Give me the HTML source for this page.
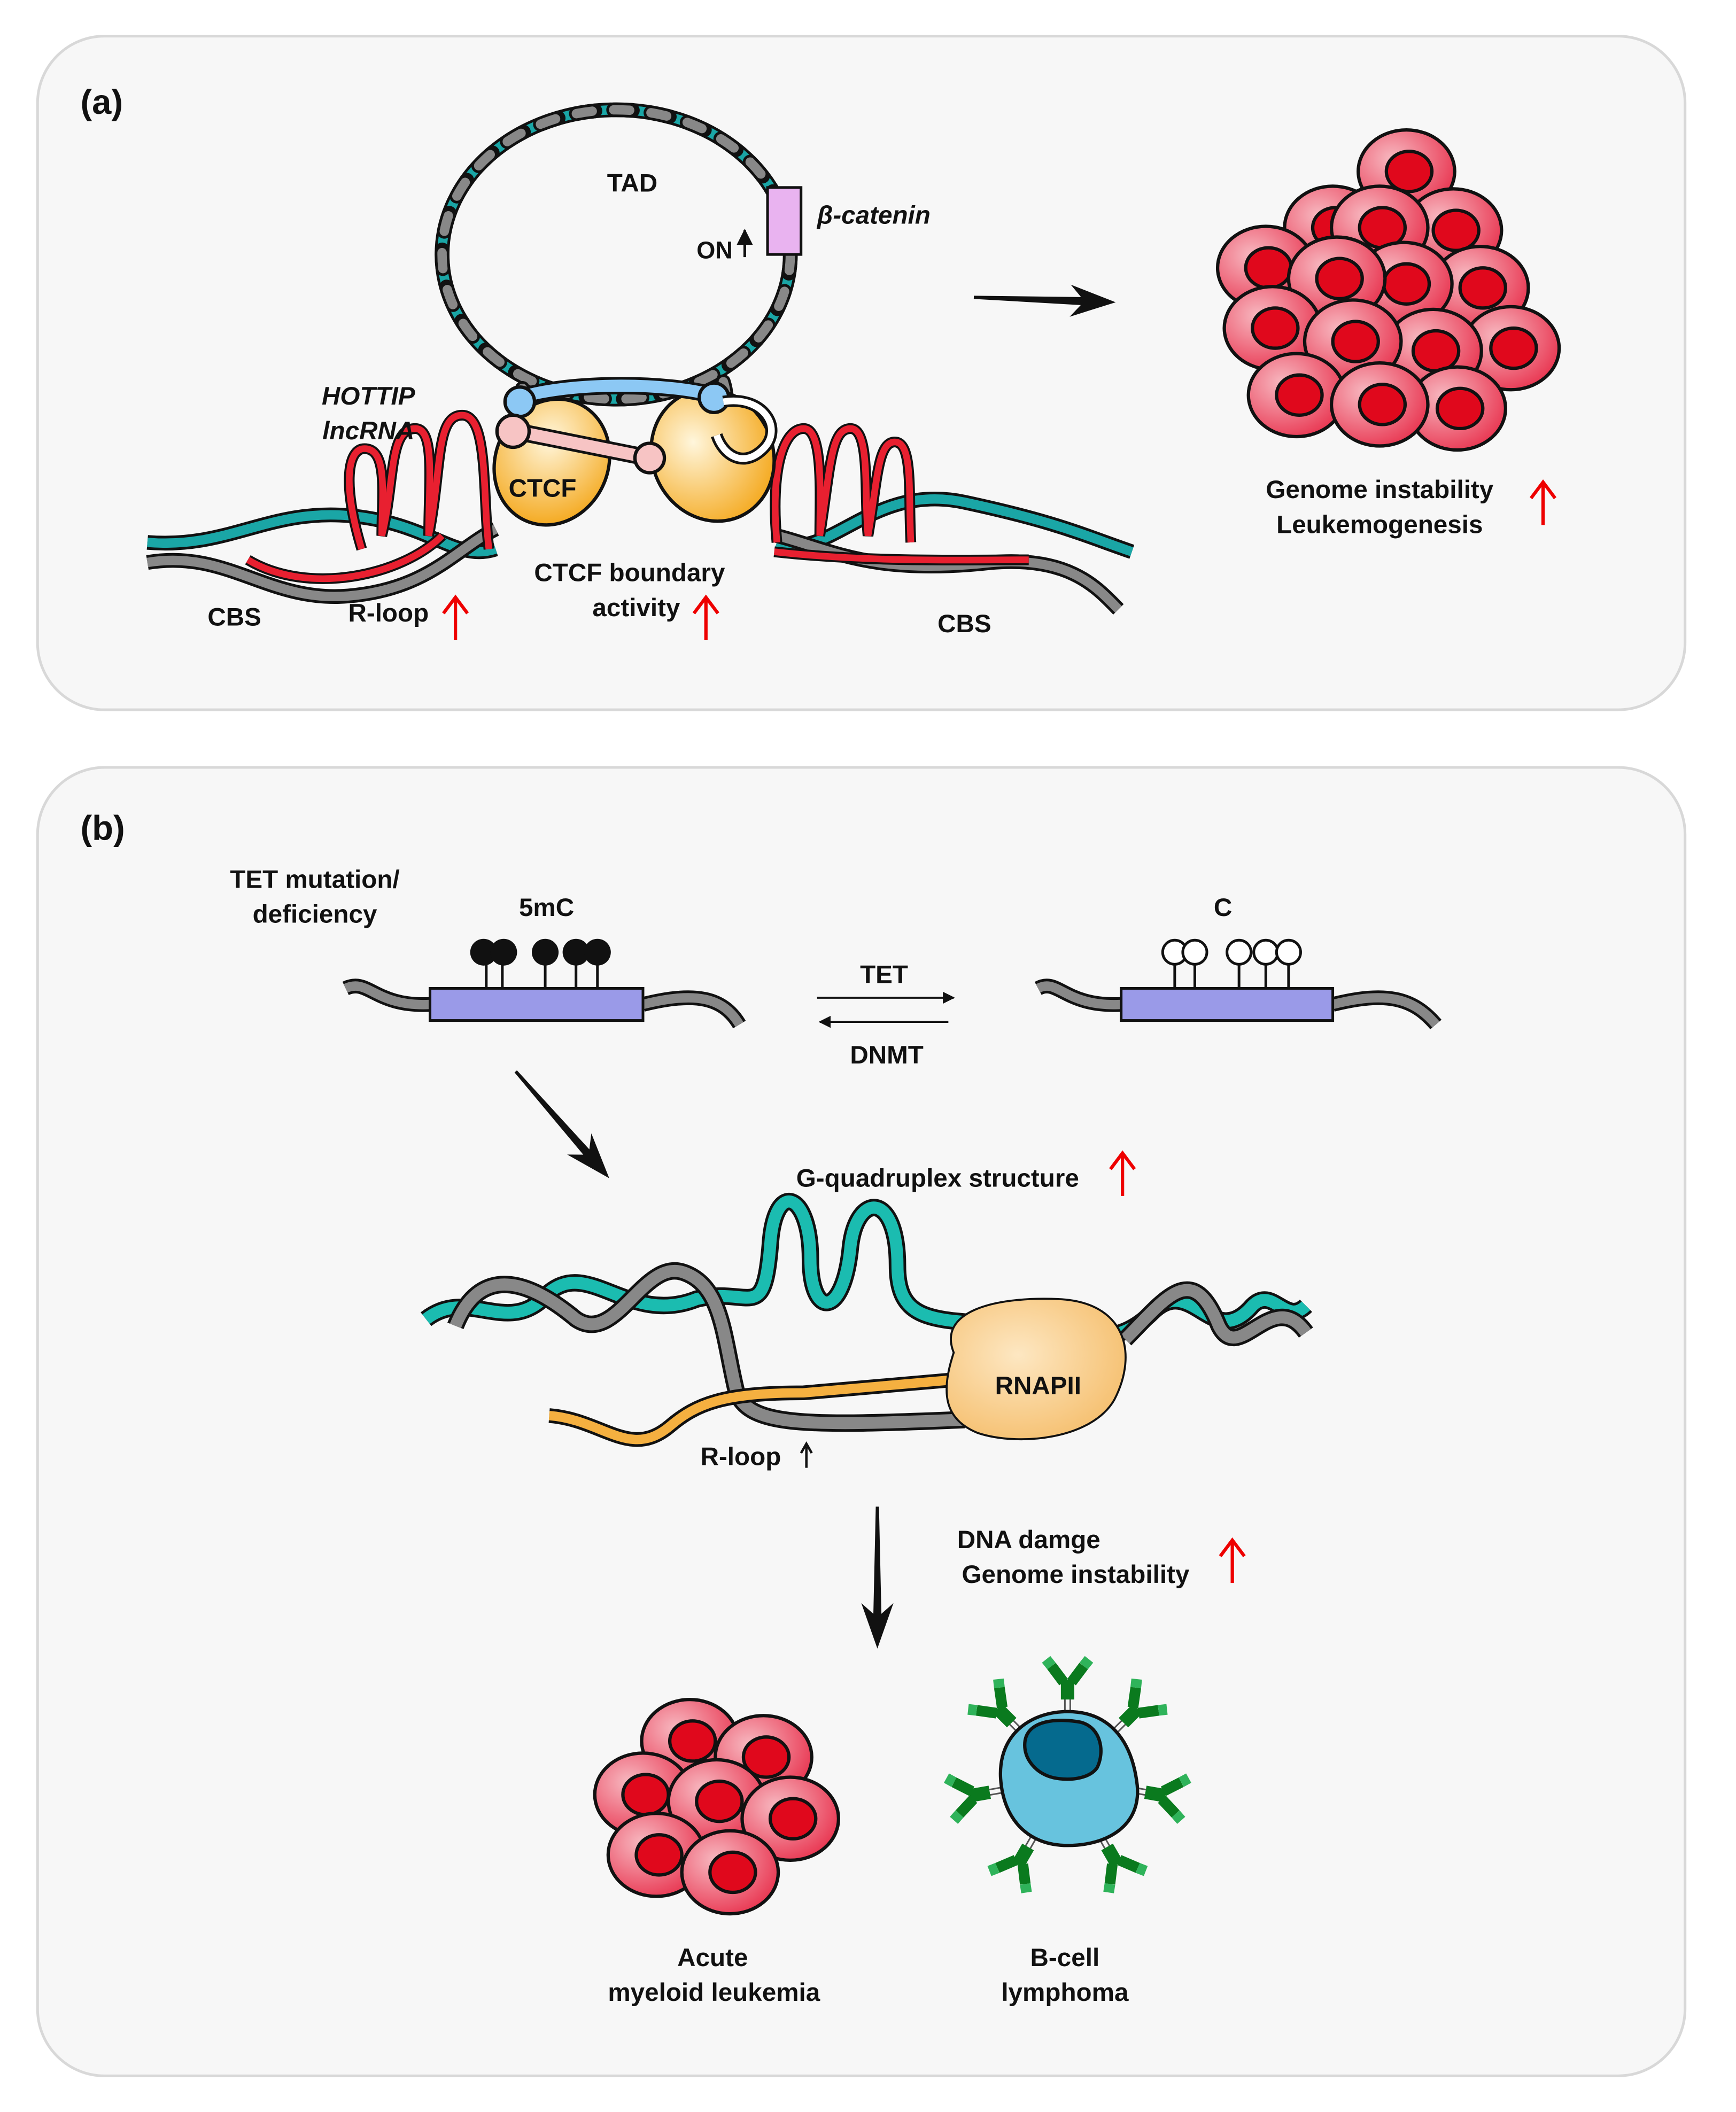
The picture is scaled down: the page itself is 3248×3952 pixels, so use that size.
<!DOCTYPE html>
<html><head><meta charset="utf-8"><style>html,body{margin:0;padding:0;background:#fff}svg{display:block}text{font-family:"Liberation Sans",Arial,sans-serif;font-weight:bold;fill:#111}</style></head>
<body>
<svg width="3248" height="3952" viewBox="0 0 1296 1577" xmlns="http://www.w3.org/2000/svg">
<defs>
<radialGradient id="cellg" cx="0.35" cy="0.35" r="0.75"><stop offset="0" stop-color="#f7b8c0"/><stop offset="1" stop-color="#e8304c"/></radialGradient>
<radialGradient id="ctg" cx="0.4" cy="0.35" r="0.7"><stop offset="0" stop-color="#fff6dc"/><stop offset="1" stop-color="#f4a81c"/></radialGradient>
<radialGradient id="rng" cx="0.4" cy="0.4" r="0.7"><stop offset="0" stop-color="#fde7c2"/><stop offset="1" stop-color="#f5bd6a"/></radialGradient>
<g id="cell"><ellipse rx="36" ry="31" fill="url(#cellg)" stroke="#111" stroke-width="2.5"/><ellipse cx="2" cy="0" rx="17" ry="15" fill="#e0081c" stroke="#111" stroke-width="2.5"/></g>
<g id="ab"><line x1="-2" y1="-49" x2="-2" y2="-60" stroke="#555" stroke-width="1.2"/><line x1="2" y1="-49" x2="2" y2="-60" stroke="#555" stroke-width="1.2"/><rect x="-5" y="-74" width="10" height="15" fill="#0a7a1e"/><path d="M-3,-72 L-12,-84 M3,-72 L12,-84" stroke="#0a7a1e" stroke-width="8"/><path d="M-12,-84 L-16,-89 M12,-84 L16,-89" stroke="#2fb35a" stroke-width="8"/></g>
<g id="arr"><path d="M0,-1.2 L80,-3 L72,-12 L106,0 L72,12 L80,3 L0,1.2z" fill="#111"/></g>
<marker id="ah" viewBox="0 0 10 10" refX="9" refY="5" markerWidth="6" markerHeight="6" orient="auto"><path d="M0,0 L10,5 L0,10z" fill="#111"/></marker>
</defs>
<rect width="1296" height="1577" fill="#fff"/>
<rect x="28" y="27" width="1230" height="503" rx="50" fill="#f7f7f7" stroke="#d8d8d8" stroke-width="2"/>
<rect x="28" y="573" width="1230" height="977" rx="50" fill="#f7f7f7" stroke="#d8d8d8" stroke-width="2"/>
<text x="60" y="85" font-size="26">(a)</text>
<text x="60" y="627" font-size="26">(b)</text>

<!-- TAD loop -->
<g fill="none" stroke-linecap="round">
<ellipse cx="460" cy="190" rx="130" ry="108" stroke="#111" stroke-width="11"/>
<ellipse cx="460" cy="190" rx="130" ry="108" stroke="#1aa6a6" stroke-width="7"/>
<ellipse cx="460" cy="190" rx="130" ry="108" stroke="#111" stroke-width="11" stroke-dasharray="14 14"/>
<ellipse cx="460" cy="190" rx="130" ry="108" stroke="#888" stroke-width="7" stroke-dasharray="12 16"/>
<path d="M390,290 C395,305 400,315 410,320 M540,285 C545,300 540,312 530,320" stroke="#111" stroke-width="11"/>
<path d="M390,290 C395,305 400,315 410,320 M540,285 C545,300 540,312 530,320" stroke="#888" stroke-width="7"/>
</g>
<rect x="573" y="140" width="25" height="50" fill="#e9b3f0" stroke="#111" stroke-width="2"/>
<text x="472" y="143" font-size="19" text-anchor="middle">TAD</text>
<text x="610" y="167" font-size="19" font-style="italic">β-catenin</text>
<text x="520" y="193" font-size="18">ON</text>
<path d="M556,192 L556,172" stroke="#111" stroke-width="2" marker-end="url(#ah)"/>

<!-- base DNA a -->
<g fill="none" stroke-linecap="butt">
<path d="M110,405 C170,410 200,380 260,385 C320,390 340,420 370,410 M580,405 C620,420 650,360 720,375 C790,390 810,400 845,412" stroke="#111" stroke-width="11"/>
<path d="M110,405 C170,410 200,380 260,385 C320,390 340,420 370,410 M580,405 C620,420 650,360 720,375 C790,390 810,400 845,412" stroke="#1aa6a6" stroke-width="7"/>
<path d="M110,420 C170,410 200,450 260,445 C320,440 340,410 370,395 M580,400 C620,410 650,430 740,420 C800,415 820,440 835,455" stroke="#111" stroke-width="11"/>
<path d="M110,420 C170,410 200,450 260,445 C320,440 340,410 370,395 M580,400 C620,410 650,430 740,420 C800,415 820,440 835,455" stroke="#888" stroke-width="7"/>
<path d="M185,418 C230,445 300,430 330,400 M578,412 C650,420 720,418 768,418" stroke="#111" stroke-width="8"/>
<path d="M185,418 C230,445 300,430 330,400 M578,412 C650,420 720,418 768,418" stroke="#e82030" stroke-width="5"/>
<path d="M270,410 C255,360 260,335 272,335 C290,335 285,370 285,400 C295,360 290,320 310,320 C325,320 320,360 320,400 C330,350 325,310 345,310 C365,310 360,370 365,410" stroke="#111" stroke-width="8"/>
<path d="M270,410 C255,360 260,335 272,335 C290,335 285,370 285,400 C295,360 290,320 310,320 C325,320 320,360 320,400 C330,350 325,310 345,310 C365,310 360,370 365,410" stroke="#e82030" stroke-width="5"/>
<path d="M580,405 C575,350 585,320 600,320 C615,320 612,370 612,400 C620,350 620,320 635,320 C650,320 645,370 648,400 C655,360 655,330 668,330 C682,330 678,370 680,405" stroke="#111" stroke-width="8"/>
<path d="M580,405 C575,350 585,320 600,320 C615,320 612,370 612,400 C620,350 620,320 635,320 C650,320 645,370 648,400 C655,360 655,330 668,330 C682,330 678,370 680,405" stroke="#e82030" stroke-width="5"/>
</g>
<!-- CTCF -->
<ellipse cx="412" cy="345" rx="42" ry="48" transform="rotate(25 412 345)" fill="url(#ctg)" stroke="#111" stroke-width="2.5"/>
<ellipse cx="532" cy="340" rx="45" ry="50" transform="rotate(-25 532 340)" fill="url(#ctg)" stroke="#111" stroke-width="2.5"/>
<path d="M385,298 C420,285 500,285 535,296" fill="none" stroke="#111" stroke-width="13"/>
<path d="M385,298 C420,285 500,285 535,296" fill="none" stroke="#8cc8f4" stroke-width="9"/>
<circle cx="388" cy="300" r="11" fill="#8cc8f4" stroke="#111" stroke-width="2.5"/><circle cx="533" cy="297" r="11" fill="#8cc8f4" stroke="#111" stroke-width="2.5"/>
<path d="M385,322 L485,342" stroke="#111" stroke-width="13"/><path d="M385,322 L485,342" stroke="#f7c4c4" stroke-width="9"/>
<circle cx="383" cy="322" r="12" fill="#f7c4c4" stroke="#111" stroke-width="2.5"/><circle cx="485" cy="342" r="11" fill="#f7c4c4" stroke="#111" stroke-width="2.5"/>
<path d="M540,300 C570,295 585,320 570,335 C555,350 540,340 535,325" fill="none" stroke="#111" stroke-width="9"/>
<path d="M540,300 C570,295 585,320 570,335 C555,350 540,340 535,325" fill="none" stroke="#fff" stroke-width="5"/>
<text x="405" y="371" font-size="19" text-anchor="middle">CTCF</text>
<text x="275" y="302" font-size="19" font-style="italic" text-anchor="middle">HOTTIP</text>
<text x="275" y="328" font-size="19" font-style="italic" text-anchor="middle">lncRNA</text>
<text x="175" y="467" font-size="19" text-anchor="middle">CBS</text>
<text x="290" y="464" font-size="19" text-anchor="middle">R-loop</text>
<text x="470" y="434" font-size="19" text-anchor="middle">CTCF boundary</text>
<text x="475" y="460" font-size="19" text-anchor="middle">activity</text>
<text x="720" y="472" font-size="19" text-anchor="middle">CBS</text>
<g stroke="#e00" stroke-width="2.5" fill="none"><path d="M340,478 V448 M331,458 L340,446 L349,458"/><path d="M527,478 V448 M518,458 L527,446 L536,458"/><path d="M1152,392 V362 M1143,372 L1152,360 L1161,372"/><path d="M838,893 V863 M829,873 L838,861 L847,873"/><path d="M920,1182 V1152 M911,1162 L920,1150 L929,1162"/></g>
<use href="#arr" transform="translate(727,222) rotate(2)"/>
<!-- cells a -->
<use href="#cell" x="1050" y="128"/><use href="#cell" x="995" y="170"/><use href="#cell" x="1085" y="172"/><use href="#cell" x="1030" y="170"/>
<use href="#cell" x="945" y="200"/><use href="#cell" x="1105" y="215"/><use href="#cell" x="1048" y="212"/><use href="#cell" x="998" y="208"/>
<use href="#cell" x="950" y="245"/><use href="#cell" x="1128" y="260"/><use href="#cell" x="1070" y="262"/><use href="#cell" x="1010" y="255"/>
<use href="#cell" x="968" y="295"/><use href="#cell" x="1088" y="305"/><use href="#cell" x="1030" y="302"/>
<text x="1030" y="372" font-size="19" text-anchor="middle">Genome instability</text>
<text x="1030" y="398" font-size="19" text-anchor="middle">Leukemogenesis</text>

<!-- panel b -->
<text x="235" y="663" font-size="19" text-anchor="middle">TET mutation/</text>
<text x="235" y="689" font-size="19" text-anchor="middle">deficiency</text>
<text x="408" y="684" font-size="19" text-anchor="middle">5mC</text>
<text x="913" y="684" font-size="19" text-anchor="middle">C</text>
<g fill="none"><path d="M258,738 C275,730 280,752 321,750 M480,750 C520,740 540,745 552,765" stroke="#111" stroke-width="11"/><path d="M258,738 C275,730 280,752 321,750 M480,750 C520,740 540,745 552,765" stroke="#888" stroke-width="7"/>
<path d="M775,738 C790,730 795,752 837,750 M995,750 C1035,740 1055,745 1072,765" stroke="#111" stroke-width="11"/><path d="M775,738 C790,730 795,752 837,750 M995,750 C1035,740 1055,745 1072,765" stroke="#888" stroke-width="7"/></g>
<rect x="321" y="738" width="159" height="24" fill="#9a9ae8" stroke="#111" stroke-width="2"/>
<rect x="837" y="738" width="158" height="24" fill="#9a9ae8" stroke="#111" stroke-width="2"/>
<g stroke="#111" stroke-width="2"><path d="M363,712V738M375,712V738M407,712V738M430,712V738M446,712V738"/><path d="M877,712V738M892,712V738M925,712V738M945,712V738M962,712V738"/></g>
<g fill="#111"><circle cx="361" cy="711" r="10"/><circle cx="376" cy="711" r="10"/><circle cx="407" cy="711" r="10"/><circle cx="430" cy="711" r="10"/><circle cx="446" cy="711" r="10"/></g>
<g fill="#fff" stroke="#111" stroke-width="2"><circle cx="877" cy="711" r="9"/><circle cx="892" cy="711" r="9"/><circle cx="925" cy="711" r="9"/><circle cx="945" cy="711" r="9"/><circle cx="962" cy="711" r="9"/></g>
<text x="660" y="734" font-size="19" text-anchor="middle">TET</text>
<text x="662" y="794" font-size="19" text-anchor="middle">DNMT</text>
<path d="M610,745 L712,745" stroke="#111" stroke-width="1.5" marker-end="url(#ah)"/>
<path d="M708,763 L612,763" stroke="#111" stroke-width="1.5" marker-end="url(#ah)"/>
<use href="#arr" transform="translate(385,800) rotate(48.8)"/>
<text x="700" y="886" font-size="19" text-anchor="middle">G-quadruplex structure</text>
<!-- b DNA -->
<g fill="none">
<path d="M318,985 C350,960 380,1000 410,965 C440,940 470,990 520,970 C560,960 570,990 575,930 C578,880 605,890 605,940 C605,985 630,985 635,930 C640,890 670,890 670,945 C670,990 700,985 760,990 C800,995 830,1010 860,980 C890,950 905,1010 935,975 C950,960 960,990 975,975" stroke="#111" stroke-width="13"/>
<path d="M318,985 C350,960 380,1000 410,965 C440,940 470,990 520,970 C560,960 570,990 575,930 C578,880 605,890 605,940 C605,985 630,985 635,930 C640,890 670,890 670,945 C670,990 700,985 760,990 C800,995 830,1010 860,980 C890,950 905,1010 935,975 C950,960 960,990 975,975" stroke="#1bbcb0" stroke-width="9"/>
<path d="M340,990 C360,940 400,960 430,985 C460,1005 480,940 510,950 C540,960 540,1000 550,1040 C560,1065 600,1065 720,1060 M840,1000 C870,970 890,940 910,990 C925,1020 950,960 975,995" stroke="#111" stroke-width="13"/>
<path d="M340,990 C360,940 400,960 430,985 C460,1005 480,940 510,950 C540,960 540,1000 550,1040 C560,1065 600,1065 720,1060 M840,1000 C870,970 890,940 910,990 C925,1020 950,960 975,995" stroke="#888" stroke-width="9"/>
<path d="M410,1057 C450,1060 470,1090 500,1065 C520,1048 540,1040 600,1040 L715,1030" stroke="#111" stroke-width="11"/>
<path d="M410,1057 C450,1060 470,1090 500,1065 C520,1048 540,1040 600,1040 L715,1030" stroke="#f5b040" stroke-width="7"/>
</g>
<path d="M712,1010 C700,980 740,968 790,970 C840,972 850,1010 832,1045 C815,1075 760,1080 730,1070 C705,1060 702,1040 712,1010z" fill="url(#rng)" stroke="#111" stroke-width="1.5"/>
<text x="775" y="1041" font-size="19" text-anchor="middle">RNAPII</text>
<text x="553" y="1094" font-size="19" text-anchor="middle">R-loop</text>
<path d="M602,1096 V1080 M598,1085 L602,1078 L606,1085" stroke="#111" stroke-width="1.8" fill="none"/>
<use href="#arr" transform="translate(655,1125) rotate(90)"/>
<text x="768" y="1156" font-size="19" text-anchor="middle">DNA damge</text>
<text x="803" y="1182" font-size="19" text-anchor="middle">Genome instability</text>
<!-- AML cells -->
<use href="#cell" x="515" y="1300"/><use href="#cell" x="570" y="1312"/><use href="#cell" x="480" y="1340"/><use href="#cell" x="535" y="1345"/>
<use href="#cell" x="590" y="1358"/><use href="#cell" x="490" y="1385"/><use href="#cell" x="545" y="1398"/>
<text x="532" y="1468" font-size="19" text-anchor="middle">Acute</text>
<text x="533" y="1494" font-size="19" text-anchor="middle">myeloid leukemia</text>
<!-- B cell -->
<g transform="translate(797,1328)">
<use href="#ab"/><use href="#ab" transform="rotate(45)"/><use href="#ab" transform="rotate(100)"/><use href="#ab" transform="rotate(150)"/><use href="#ab" transform="rotate(-150)"/><use href="#ab" transform="rotate(-100)"/><use href="#ab" transform="rotate(-45)"/>
<path d="M-50,0 C-52,-35 -25,-50 0,-50 C30,-50 48,-30 52,5 C55,35 30,50 0,50 C-30,50 -48,30 -50,0z" fill="#67c3de" stroke="#111" stroke-width="2.5"/>
<path d="M-32,-25 C-32,-45 -5,-45 10,-42 C25,-38 28,-20 22,-8 C15,2 -5,2 -15,-2 C-25,-6 -32,-15 -32,-25z" fill="#056a8e" stroke="#111" stroke-width="2.5"/>
</g>
<text x="795" y="1468" font-size="19" text-anchor="middle">B-cell</text>
<text x="795" y="1494" font-size="19" text-anchor="middle">lymphoma</text>
</svg>
</body></html>
